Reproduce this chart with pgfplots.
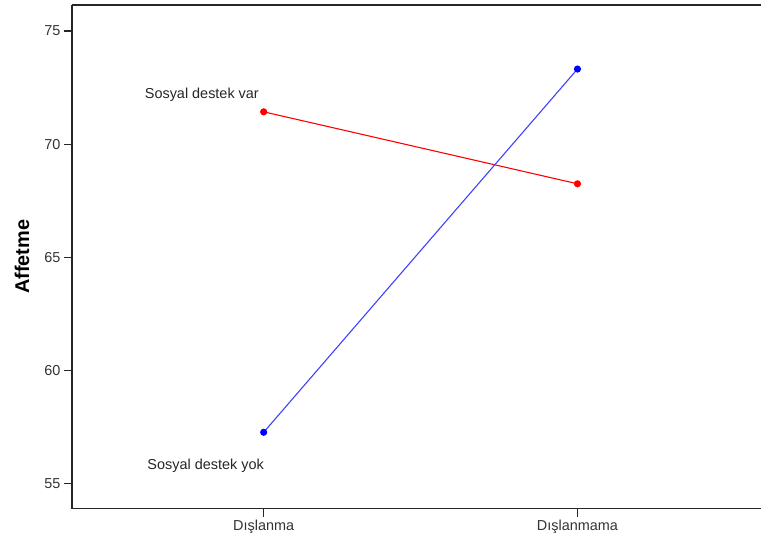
\documentclass[border=0pt]{standalone}
\usepackage{pgfplots}
\pgfplotsset{compat=1.18}
\usepackage{fontspec}
\setmainfont{Liberation Sans}

\begin{document}
\begin{tikzpicture}[x=1bp,y=1bp]
\begin{axis}[
    at={(72bp,36bp)},
    anchor=south west,
    scale only axis,
    width=690bp, height=504bp,
    xmin=-0.611, xmax=1.586,
    ymin=53.9, ymax=76.15,
    axis lines=left,
    axis line style={-, line width=1.3pt, black!85},
    xtick={0,1},
    xticklabels={Dışlanma, Dışlanmama},
    ytick={55,60,65,70,75},
    tick align=outside,
    major tick length=8bp,
    tick style={line width=1.2pt, black!85},
    ticklabel style={font=\fontsize{14.5}{17}\selectfont, text=black!80},
    /pgf/number format/assume math mode=true,
    ylabel={Affetme},
    ylabel style={font=\fontsize{20}{24}\selectfont\bfseries, at={(axis description cs:-0.0725,0.5)}, anchor=center, rotate=0},
    clip=false,
]
\draw[line width=1.3pt, black!85] (rel axis cs:0,1) -- (rel axis cs:1,1);

% Sosyal destek var
\addplot[color=red, line width=1.1pt, mark=*, mark size=3pt, mark options={fill=red, draw=red}]
    coordinates {
(0, 71.43)
(1, 68.25)
    };

% Sosyal destek yok
\addplot[color=blue!75, line width=1.1pt, mark=*, mark size=3pt, mark options={fill=blue, draw=blue}]
    coordinates {
(0, 57.27)
(1, 73.32)
    };

\node[font=\fontsize{14.5}{17}\selectfont, text=black!85] at (axis cs:-0.197,72.18) {Sosyal destek var};
\node[font=\fontsize{14.5}{17}\selectfont, text=black!85] at (axis cs:-0.185,55.81) {Sosyal destek yok};
\end{axis}
\path (0,0) rectangle (762bp,545bp);
\end{tikzpicture}
\end{document}
